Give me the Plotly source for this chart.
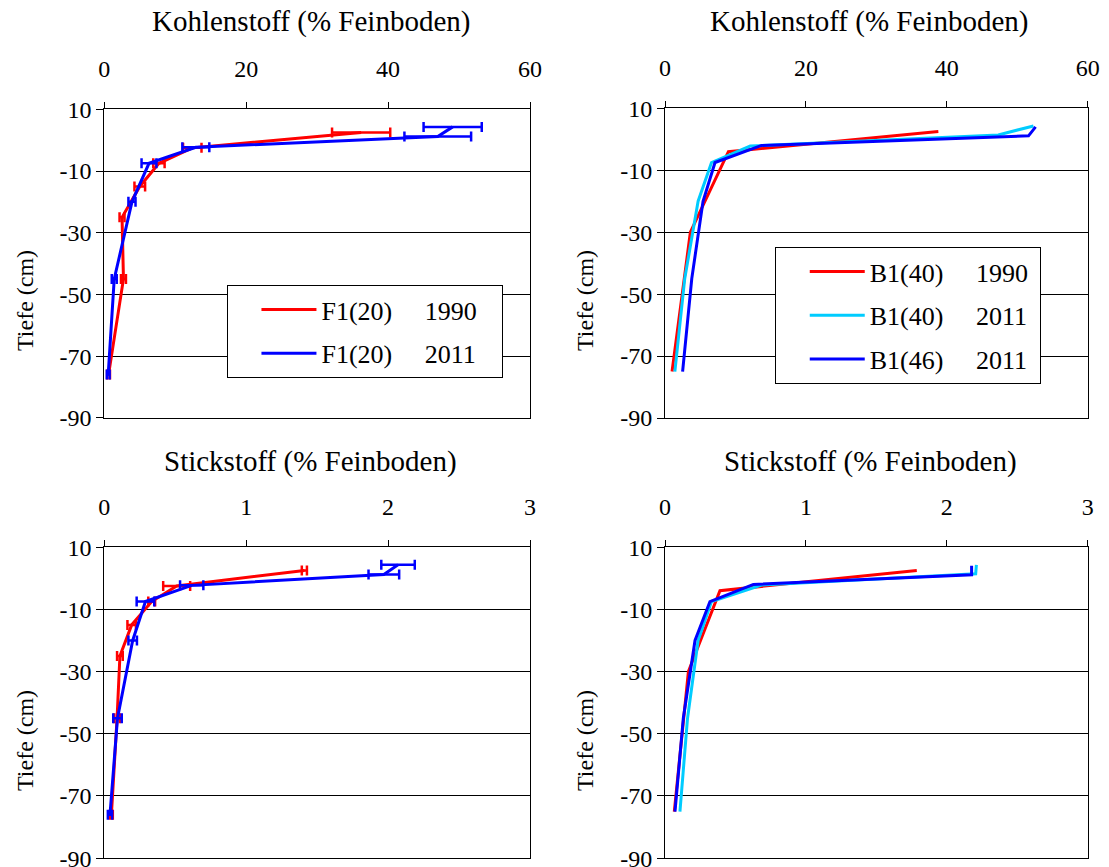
import plotly.graph_objects as go

# ---- Site F1(20): depth (cm) and contents ----
depth_F1_1990 = [2.5, -2.5, -7.5, -15, -25, -45, -76]
C_F1_1990 = [36.2, 12.4, 7.7, 5.0, 2.5, 2.7, 0.6]
C_F1_1990_err = [4.1, 1.3, 0.8, 0.75, 0.35, 0.35, 0.2]
N_F1_1990 = [1.41, 0.51, 0.334, 0.193, 0.11, 0.09, 0.05]
N_F1_1990_err = [0.018, 0.095, 0.024, 0.03, 0.02, 0.02, 0.01]

depth_F1_2011 = [4.3, 1.2, -2.3, -7.5, -20, -45, -76]
C_F1_2011 = [49.1, 47.0, 12.9, 6.3, 3.9, 1.4, 0.55]
C_F1_2011_err = [4.1, 4.7, 1.9, 1.05, 0.5, 0.35, 0.2]
N_F1_2011 = [2.07, 1.97, 0.616, 0.29, 0.2, 0.093, 0.04]
N_F1_2011_err = [0.118, 0.108, 0.082, 0.062, 0.03, 0.03, 0.015]

# ---- Site B1 ----
depth_B1_40_1990 = [2.5, -4, -30, -75]
C_B1_40_1990 = [38.8, 9.0, 3.6, 1.0]
N_B1_40_1990 = [1.787, 0.39, 0.166, 0.066]

depth_B1_40_2011 = [4.3, 1.4, -2.2, -7.5, -20, -45, -75]
C_B1_40_2011 = [52.3, 47.3, 12.1, 6.6, 4.7, 2.8, 1.4]
N_B1_40_2011 = [2.21, 2.205, 0.686, 0.33, 0.235, 0.16, 0.106]

depth_B1_46_2011 = [4.0, 1.1, -2.0, -7.5, -20, -45, -75]
C_B1_46_2011 = [52.6, 51.6, 13.7, 7.1, 5.4, 3.8, 2.5]
N_B1_46_2011 = [2.176, 2.176, 0.627, 0.319, 0.213, 0.13, 0.071]

# ---- Axis ticks ----
depth_ticks = [10, -10, -30, -50, -70, -90]
depth_ticktext = ["10", "-10", "-30", "-50", "-70", "-90"]

RED = "#FF0000"
BLUE = "#0000FF"
CYAN = "#00CCFF"
FONT = "Liberation Serif, Times New Roman, Times, serif"
NB = "\u00a0"
GAP = NB * 5

W, H = 1109, 867
fig = go.Figure()


def err(vals, color):
    return dict(type="data", array=vals, visible=True, color=color,
                thickness=2.5, width=5)


def line(x, y, color, name, xa, ya, legend=None, e=None, group=None):
    fig.add_trace(go.Scatter(
        x=x, y=y, mode="lines", name=name,
        line=dict(color=color, width=3),
        error_x=err(e, color) if e is not None else None,
        xaxis=xa, yaxis=ya,
        showlegend=legend is not None,
        legend=legend if legend else "legend",
        legendgroup=group,
    ))


# Carbon, F1(20)
line(C_F1_1990, depth_F1_1990, RED, f"F1(20){GAP}1990{NB * 3}", "x", "y", "legend", C_F1_1990_err, "a")
line(C_F1_2011, depth_F1_2011, BLUE, f"F1(20){GAP}2011{NB * 3}", "x", "y", "legend", C_F1_2011_err, "b")
# Carbon, B1
line(C_B1_40_1990, depth_B1_40_1990, RED, f"B1(40){GAP}1990{NB}", "x2", "y2", "legend2", None, "c")
line(C_B1_40_2011, depth_B1_40_2011, CYAN, f"B1(40){GAP}2011{NB}", "x2", "y2", "legend2", None, "d")
line(C_B1_46_2011, depth_B1_46_2011, BLUE, f"B1(46){GAP}2011{NB}", "x2", "y2", "legend2", None, "e")
# Nitrogen, F1(20)
line(N_F1_1990, depth_F1_1990, RED, "F1(20) 1990", "x3", "y3", None, N_F1_1990_err)
line(N_F1_2011, depth_F1_2011, BLUE, "F1(20) 2011", "x3", "y3", None, N_F1_2011_err)
# Nitrogen, B1
line(N_B1_40_1990, depth_B1_40_1990, RED, "B1(40) 1990", "x4", "y4")
line(N_B1_40_2011, depth_B1_40_2011, CYAN, "B1(40) 2011", "x4", "y4")
line(N_B1_46_2011, depth_B1_46_2011, BLUE, "B1(46) 2011", "x4", "y4")

# Plot areas in pixels: (left, right, top, bottom)
boxes = {
    "1": (104.3, 530.0, 109.3, 417.8),
    "2": (665.0, 1087.7, 108.3, 418.0),
    "3": (104.3, 530.0, 547.1, 858.2),
    "4": (665.0, 1087.7, 547.1, 858.2),
}
xranges = {"1": [0, 60], "2": [0, 60], "3": [0, 3], "4": [0, 3]}
xdticks = {"1": 20, "2": 20, "3": 1, "4": 1}

tickfont = dict(family=FONT, size=24, color="black")
for k, (l, r, t, b) in boxes.items():
    sfx = "" if k == "1" else k
    fig.update_layout(**{
        f"xaxis{sfx}": dict(
            domain=[l / W, r / W], anchor=f"y{sfx}", side="top",
            range=xranges[k], dtick=xdticks[k], tick0=0,
            showgrid=False, zeroline=False,
            showline=True, mirror=True, linecolor="black", linewidth=1,
            ticks="outside", ticklen=6, tickcolor="black",
            tickfont=tickfont, ticklabelstandoff=16,
            ticklabeloverflow="allow",
        ),
        f"yaxis{sfx}": dict(
            domain=[1 - b / H, 1 - t / H], anchor=f"x{sfx}",
            range=[-90, 10], tickvals=depth_ticks, ticktext=depth_ticktext,
            showgrid=True, gridcolor="black", gridwidth=1, zeroline=False,
            showline=True, mirror=True, linecolor="black", linewidth=1,
            ticks="outside", ticklen=7, tickcolor="black",
            tickfont=tickfont, ticklabeloverflow="allow",
        ),
    })

title_font = dict(family=FONT, size=29, color="black")
label_font = dict(family=FONT, size=24, color="black")
annotations = [
    dict(text="Kohlenstoff (% Feinboden)", x=311 / W, y=1 - 22 / H, font=title_font),
    dict(text="Kohlenstoff (% Feinboden)", x=869 / W, y=1 - 22 / H, font=title_font),
    dict(text="Stickstoff (% Feinboden)", x=310 / W, y=1 - 462 / H, font=title_font),
    dict(text="Stickstoff (% Feinboden)", x=870 / W, y=1 - 462 / H, font=title_font),
    dict(text="Tiefe (cm)", x=25 / W, y=1 - 301 / H, textangle=-90, font=label_font),
    dict(text="Tiefe (cm)", x=585 / W, y=1 - 301 / H, textangle=-90, font=label_font),
    dict(text="Tiefe (cm)", x=25 / W, y=1 - 741 / H, textangle=-90, font=label_font),
    dict(text="Tiefe (cm)", x=585 / W, y=1 - 741 / H, textangle=-90, font=label_font),
]
for a in annotations:
    a.update(xref="paper", yref="paper", showarrow=False,
             xanchor="center", yanchor="middle")

legend_style = dict(
    font=dict(family=FONT, size=26, color="black"),
    bgcolor="white", bordercolor="black", borderwidth=1,
    xanchor="left", yanchor="top", tracegroupgap=7,
    itemwidth=55,
    title=dict(text=NB * 3, side="left", font=dict(family=FONT, size=25)),
)

fig.update_layout(
    width=W, height=H,
    margin=dict(l=0, r=0, t=0, b=0, autoexpand=False),
    paper_bgcolor="white", plot_bgcolor="white",
    annotations=annotations,
    legend=dict(x=226.7 / W, y=1 - 285 / H, **legend_style),
    legend2=dict(x=775 / W, y=1 - 247 / H, **legend_style),
)

fig.write_html("out.html")
